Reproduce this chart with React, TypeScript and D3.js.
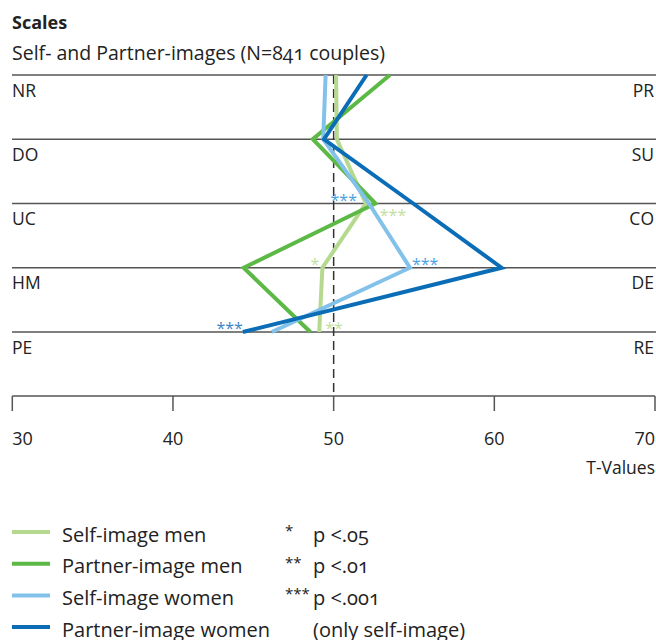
import { useEffect } from 'react'
import * as d3 from 'd3'

const leftLabels = ['NR', 'DO', 'UC', 'HM', 'PE']
const rightLabels = ['PR', 'SU', 'CO', 'DE', 'RE']
const ticks = [30, 40, 50, 60, 70]

const selfMen = [50.15, 50.2, 52.0, 49.3, 49.1]
const partnerMen = [53.5, 48.7, 52.6, 44.4, 48.55]
const selfWomen = [49.5, 49.35, 52.2, 54.75, 46.15]
const partnerWomen = [52.05, 49.4, 54.95, 60.45, 44.35]

const seriesNames = ['Self-image men', 'Partner-image men', 'Self-image women', 'Partner-image women']
const seriesValues = [selfMen, partnerMen, selfWomen, partnerWomen]
const seriesColors = ['#b5d98e', '#5cb946', '#82c1ea', '#0a6db6']
const starColors = ['#c2e0a0', '#5cb946', '#4aa2df', '#3a86c8']

// significance marks: series index, row index, label
const marks = [
  { s: 2, row: 2, label: '***', dx: -12, dy: -7, anchor: 'end' },
  { s: 0, row: 2, label: '***', dx: 14, dy: 8, anchor: 'start' },
  { s: 0, row: 3, label: '*', dx: -3, dy: -7, anchor: 'end' },
  { s: 2, row: 3, label: '***', dx: 2, dy: -7, anchor: 'start' },
  { s: 3, row: 4, label: '***', dx: 0, dy: -7, anchor: 'end' },
  { s: 0, row: 4, label: '**', dx: 6, dy: -7, anchor: 'start' },
]

const pLabels = [
  { star: '*', text: 'p <.05' },
  { star: '**', text: 'p <.01' },
  { star: '***', text: 'p <.001' },
  { star: '', text: '(only self-image)' },
]

const font = '"Open Sans", "Noto Sans", sans-serif'
const textColor = '#222'

export default function App() {
  useEffect(() => {
    document.body.style.margin = '0'
  }, [])

  const width = 656
  const height = 640
  const x = d3.scaleLinear().domain([30, 70]).range([12.3, 655])
  const y = d3.scalePoint<number>().domain(d3.range(leftLabels.length)).range([75, 332])
  const axisY = 396

  const line = d3
    .line<number>()
    .x((d) => x(d))
    .y((_, i) => y(i) as number)

  return (
    <svg width={width} height={height} style={{ display: 'block', fontFamily: font }}>
      <text x={12} y={29} fontSize={18} fontWeight={700} fill={textColor}>
        Scales
      </text>
      <text x={12} y={60} fontSize={19.5} fill={textColor} style={{ fontVariantNumeric: 'oldstyle-nums' }}>
        Self- and Partner-images (N=841 couples)
      </text>

      {leftLabels.map((lab, i) => (
        <g key={lab}>
          <line x1={12} x2={656} y1={y(i)} y2={y(i)} stroke="#555" strokeWidth={1.5} />
          <text x={12} y={(y(i) as number) + 21.5} fontSize={17.5} fill={textColor}>
            {lab}
          </text>
          <text x={654} y={(y(i) as number) + 21.5} fontSize={17.5} fill={textColor} textAnchor="end">
            {rightLabels[i]}
          </text>
        </g>
      ))}

      <line x1={x(50)} x2={x(50)} y1={75} y2={axisY} stroke="#333" strokeWidth={1.5} strokeDasharray="9,5" />

      {seriesValues.map((vals, s) => (
        <path key={s} d={line(vals) || ''} fill="none" stroke={seriesColors[s]} strokeWidth={4} strokeLinejoin="miter" />
      ))}

      {marks.map((m, i) => (
        <text
          key={i}
          x={x(seriesValues[m.s][m.row]) + m.dx}
          y={(y(m.row) as number) + m.dy + 9}
          fontSize={16}
          fill={starColors[m.s]}
          textAnchor={m.anchor}
        >
          {m.label}
        </text>
      ))}

      <line x1={12.3} x2={655} y1={axisY} y2={axisY} stroke="#555" strokeWidth={1.5} />
      {ticks.map((t, i) => (
        <g key={t}>
          <line x1={x(t)} x2={x(t)} y1={axisY} y2={axisY + 15} stroke="#555" strokeWidth={1.5} />
          <text
            x={x(t)}
            y={axisY + 49}
            fontSize={18}
            fill={textColor}
            textAnchor={i === 0 ? 'start' : i === ticks.length - 1 ? 'end' : 'middle'}
          >
            {t}
          </text>
        </g>
      ))}
      <text x={655} y={axisY + 78} fontSize={17.5} fill={textColor} textAnchor="end">
        T-Values
      </text>

      {seriesNames.map((name, i) => {
        const ly = 532 + i * 31.7
        return (
          <g key={name}>
            <line x1={12} x2={50} y1={ly} y2={ly} stroke={seriesColors[i]} strokeWidth={4} />
            <text x={62} y={ly + 9.5} fontSize={20} fill={textColor}>
              {name}
            </text>
            <text x={285} y={ly + 4} fontSize={15} fill={textColor}>
              {pLabels[i].star}
            </text>
            <text x={313} y={ly + 9.5} fontSize={20} fill={textColor} style={{ fontVariantNumeric: 'oldstyle-nums' }}>
              {pLabels[i].text}
            </text>
          </g>
        )
      })}
    </svg>
  )
}
